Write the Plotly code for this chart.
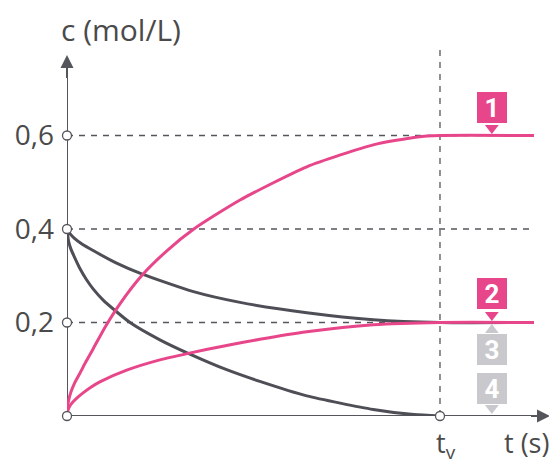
import plotly.graph_objects as go

# time in units of t_v (t_v = 1), concentration in mol/L
t1 = [0, 0.003, 0.01, 0.02, 0.035, 0.052, 0.071, 0.102, 0.142, 0.2, 0.27, 0.34, 0.464, 0.643, 0.821, 0.94, 1.0, 1.252]
c1 = [0, 0.028, 0.05, 0.07, 0.092, 0.118, 0.145, 0.19, 0.24, 0.3, 0.355, 0.4, 0.462, 0.533, 0.58, 0.597, 0.6, 0.6]

t2 = [0, 0.003, 0.008, 0.017, 0.03, 0.044, 0.065, 0.088, 0.16, 0.249, 0.325, 0.428, 0.517, 0.643, 0.821, 1.0, 1.252]
c2 = [0, 0.013, 0.022, 0.031, 0.041, 0.05, 0.062, 0.073, 0.098, 0.12, 0.134, 0.151, 0.164, 0.18, 0.195, 0.2, 0.2]

t3 = [0, 0.008, 0.02, 0.04, 0.07, 0.13, 0.2, 0.339, 0.464, 0.643, 0.821, 1.0, 1.252]
c3 = [0.4, 0.39, 0.38, 0.368, 0.354, 0.328, 0.304, 0.266, 0.243, 0.221, 0.206, 0.2, 0.2]

t4 = [0, 0.004, 0.01, 0.02, 0.035, 0.052, 0.07, 0.097, 0.169, 0.249, 0.325, 0.428, 0.517, 0.643, 0.821, 0.93, 1.0]
c4 = [0.4, 0.375, 0.358, 0.34, 0.315, 0.292, 0.272, 0.248, 0.2, 0.163, 0.134, 0.099, 0.074, 0.043, 0.014, 0.003, 0]

levels = [0.2, 0.4, 0.6]
level_labels = ["0,2", "0,4", "0,6"]
t_end = 1.252
curve_names = ["1", "2", "3", "4"]

PINK = "#e8468a"
GREY = "#4e4e56"
LIGHT = "#c9c9cd"
AXIS = "#55555c"
TXT = "#4a4a4a"
FONT = "Open Sans"

fig = go.Figure()

# dashed guide lines
for lv in levels:
    fig.add_trace(go.Scatter(x=[0, t_end], y=[lv, lv], mode="lines",
                             line=dict(color=AXIS, width=1.3, dash="6px,6px"),
                             hoverinfo="skip"))
fig.add_trace(go.Scatter(x=[1, 1], y=[0, 0.795], mode="lines",
                         line=dict(color=AXIS, width=1.3, dash="6px,6px"),
                         hoverinfo="skip"))

# axes
fig.add_trace(go.Scatter(x=[0, 1.26], y=[0, 0], mode="lines",
                         line=dict(color=AXIS, width=2), hoverinfo="skip"))
fig.add_trace(go.Scatter(x=[0, 0], y=[0, 0.735], mode="lines",
                         line=dict(color=AXIS, width=2), hoverinfo="skip"))
fig.add_annotation(x=1.295, y=0, ax=1.24, ay=0, xref="x", yref="y", axref="x", ayref="y",
                   text="", showarrow=True, arrowhead=2, arrowsize=1.3, arrowwidth=2,
                   arrowcolor=AXIS)
fig.add_annotation(x=0, y=0.772, ax=0, ay=0.72, xref="x", yref="y", axref="x", ayref="y",
                   text="", showarrow=True, arrowhead=2, arrowsize=1.3, arrowwidth=2,
                   arrowcolor=AXIS)

# curves
for t, c, col in [(t3, c3, GREY), (t4, c4, GREY), (t1, c1, PINK), (t2, c2, PINK)]:
    fig.add_trace(go.Scatter(x=t, y=c, mode="lines",
                             line=dict(color=col, width=3, shape="spline", smoothing=0.6)))

# open circles on axes
fig.add_trace(go.Scatter(x=[0, 0, 0, 0, 1], y=[0] + levels + [0], mode="markers",
                         cliponaxis=False,
                         marker=dict(size=9, color="white", line=dict(color=AXIS, width=1.3))))

# curve tags
tag_col = [PINK, PINK, LIGHT, LIGHT]
tip_y = [0.616, 0.216, 0.184, 0.017]
tip_sym = ["triangle-down", "triangle-down", "triangle-up", "triangle-down"]
tag_box_y = [0.659, 0.262, 0.143, 0.059]
for name, yb, col, ty, sym in zip(curve_names, tag_box_y, tag_col, tip_y, tip_sym):
    fig.add_trace(go.Scatter(x=[1.139], y=[ty], mode="markers", cliponaxis=False,
                             marker=dict(symbol=sym, size=12, color=col)))
    fig.add_annotation(x=1.139, y=yb, xref="x", yref="y", text=f"<b>{name}</b>",
                       showarrow=False, bgcolor=col, bordercolor=col, borderwidth=2,
                       width=24, height=25, borderpad=1,
                       font=dict(family="Roboto", size=26, color="white"))

# axis titles and t_v label
fig.add_annotation(x=0, y=0.826, xref="x", yref="y", text="c (mol/L)", showarrow=False,
                   xanchor="left", xshift=-8, font=dict(family=FONT, size=30, color=TXT))
fig.add_annotation(x=1.167, y=0, xref="x", yref="y", text="t (s)", showarrow=False,
                   xanchor="left", yanchor="top", yshift=-6,
                   font=dict(family=FONT, size=27, color=TXT))
fig.add_annotation(x=0.983, y=0, xref="x", yref="y", text="t<sub>v</sub>", showarrow=False,
                   xanchor="left", yanchor="top", yshift=-6,
                   font=dict(family=FONT, size=27, color=TXT))

# the page body adds an 8px offset, so the figure is 8px smaller than the window
fig.update_layout(
    width=549, height=452,
    margin=dict(l=59, r=0, t=0, b=44, autoexpand=False),
    paper_bgcolor="white", plot_bgcolor="white",
    showlegend=False,
    xaxis=dict(range=[0, 1.3137], showgrid=False, zeroline=False, showline=False,
               showticklabels=False, ticks="", automargin=False),
    yaxis=dict(range=[0, 0.8727], showgrid=False, zeroline=False, showline=False,
               tickvals=levels, ticktext=level_labels, ticks="", ticklabelstandoff=12,
               automargin=False, tickfont=dict(family=FONT, size=28, color=TXT)),
)

fig.write_html("out.html")
